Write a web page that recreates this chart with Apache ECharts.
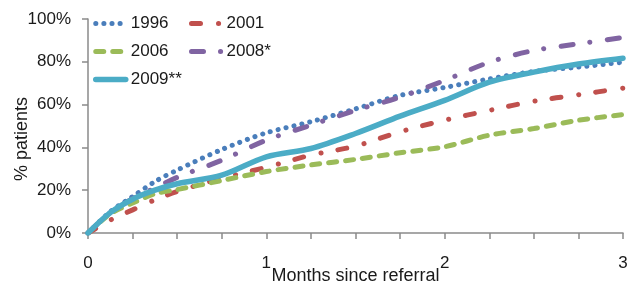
<!DOCTYPE html>
<html>
<head>
<meta charset="utf-8">
<script src="https://cdn.jsdelivr.net/npm/echarts@6/dist/echarts.min.js"></script>
<style>
  html, body { margin: 0; padding: 0; background: #fff; }
  #chart { width: 628px; height: 288px; }
</style>
</head>
<body>
<div id="chart"></div>
<script>
// months since referral
const months = [0, 0.125, 0.25, 0.375, 0.5, 0.75, 1, 1.25, 1.5, 1.75, 2, 2.25, 2.5, 2.75, 3];
// % patients per cohort
const s1996 = [0, 10, 17, 24, 29.4, 39, 46.8, 52, 58, 64.3, 68, 72, 75.5, 77.5, 79.8];
const s2001 = [0, 6, 10.8, 15.5, 19.4, 25.6, 30.7, 36.4, 40.6, 47.3, 52.7, 57.3, 61.6, 64.6, 67.7];
const s2006 = [0, 9, 14, 18.3, 20.3, 24.5, 28.7, 31.8, 34.4, 37.5, 40.3, 45.7, 48.8, 52.7, 55.3];
const s2008 = [0, 9.5, 16, 21, 26, 34, 43.4, 50.4, 57.3, 63.5, 71.3, 79.8, 85.3, 88.4, 91.4];
const s2009 = [0, 9.5, 15.8, 20, 23, 27, 35.6, 39.5, 46.5, 54.6, 62, 70.5, 75.2, 79, 81.7];
const xTickLabels = ["0", "1", "2", "3"];

const pairs = (vals) => vals.map((v, i) => [months[i], v]);

const chart = echarts.init(document.getElementById("chart"));
const font = "Liberation Sans, Arial, sans-serif";
const axisGrey = "#8a8a8a";
const textColor = "#1a1a1a";

// 一条线的通用配置
const makeLine = (name, vals, color, width, type) => ({
  name: name,
  type: "line",
  data: pairs(vals),
  smooth: 0.3,
  symbol: "none",
  showSymbol: false,
  lineStyle: { color: color, width: width, type: type, cap: "round" },
  itemStyle: { color: color },
});

const legendBase = {
  orient: "vertical",
  top: 10,
  itemWidth: 30,
  itemHeight: 14,
  itemGap: 11,
  itemStyle: { opacity: 0 },
  lineStyle: { width: 5, cap: "round" },
  textStyle: { fontSize: 17, color: textColor, lineHeight: 17, fontFamily: font },
};

chart.setOption({
  animation: false,
  textStyle: { fontFamily: font },
  grid: { left: 88, right: 5, top: 19, bottom: 55, containLabel: false, outerBoundsMode: "none" },
  legend: [
    Object.assign({}, legendBase, { left: 88, data: ["1996", "2006", { name: "2009**", lineStyle: { width: 5.5 } }] }),
    Object.assign({}, legendBase, { left: 184, data: ["2001", "2008*"] }),
  ],
  xAxis: {
    type: "value",
    min: 0,
    max: 3,
    interval: 0.25,
    name: "Months since referral",
    nameLocation: "middle",
    nameGap: 34,
    nameMoveOverlap: false,
    nameTextStyle: { fontSize: 18, color: textColor, fontFamily: font },
    splitLine: { show: false },
    axisLine: { show: true, lineStyle: { color: axisGrey, width: 1.5 } },
    axisTick: { show: true, length: 6, lineStyle: { color: axisGrey, width: 1.5 } },
    axisLabel: {
      fontSize: 17,
      color: textColor,
      margin: 22,
      showMinLabel: true,
      showMaxLabel: true,
      formatter: (v) => (Number.isInteger(v) ? xTickLabels[v] : ""),
    },
  },
  yAxis: {
    type: "value",
    min: 0,
    max: 100,
    interval: 20,
    name: "% patients",
    nameLocation: "middle",
    nameGap: 57,
    nameMoveOverlap: false,
    nameTextStyle: { fontSize: 18, color: textColor, fontFamily: font, padding: [0, 26, 0, 0] },
    splitLine: { show: false },
    axisLine: { show: true, lineStyle: { color: axisGrey, width: 1.5 } },
    axisTick: { show: true, length: 6, lineStyle: { color: axisGrey, width: 1.5 } },
    axisLabel: { fontSize: 17, color: textColor, margin: 17, formatter: "{value}%" },
  },
  series: [
    makeLine("1996", s1996, "#4a7ebb", 5, [0.1, 8]),
    makeLine("2001", s2001, "#c0504d", 5, [9, 18, 0.1, 17]),
    makeLine("2006", s2006, "#9bbb59", 5, [8, 9]),
    makeLine("2008*", s2008, "#8064a2", 5, [12, 17, 0.1, 17.5]),
    makeLine("2009**", s2009, "#4bacc6", 5.5, "solid"),
  ],
});
</script>
</body>
</html>
